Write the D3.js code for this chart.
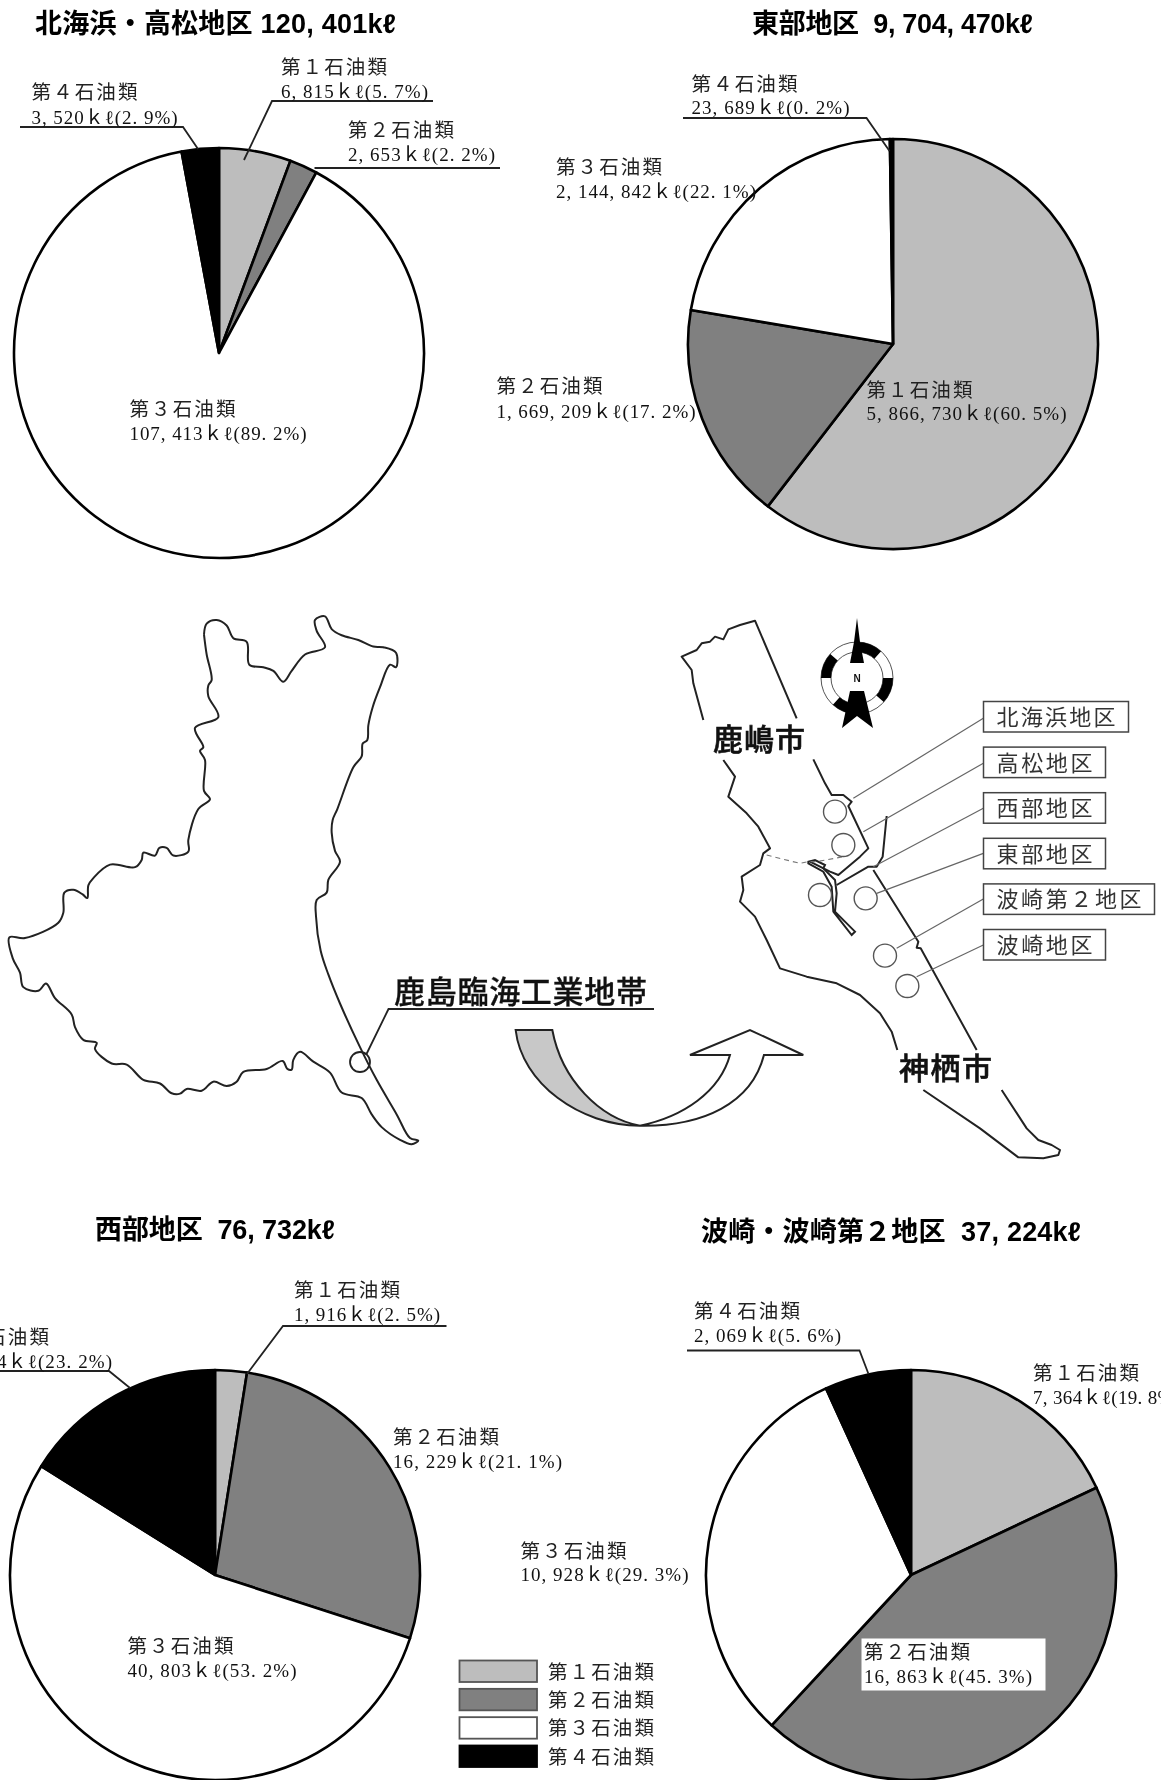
<!DOCTYPE html>
<html lang="ja">
<head>
<meta charset="utf-8">
<title>鹿島臨海工業地帯</title>
<script src="https://cdn.jsdelivr.net/npm/d3@7"></script>
<style>
  html, body { margin: 0; padding: 0; background: #fff; }
  svg { display: block; filter: blur(0.55px); }
  text { white-space: pre; }
</style>
</head>
<body>
<div id="chart"></div>
<script>
const categories = ["第１石油類", "第２石油類", "第３石油類", "第４石油類"]
const colors = ["#bdbdbd", "#808080", "#ffffff", "#000000"]

const titles = ["北海浜・高松地区 120, 401kℓ", "東部地区  9, 704, 470kℓ", "西部地区  76, 732kℓ", "波崎・波崎第２地区  37, 224kℓ"]

// amounts and percents as printed next to each slice
const hokkaihamaAmounts = [6815, 2653, 107413, 3520]
const hokkaihamaPercents = [5.7, 2.2, 89.2, 2.9]
const tobuAmounts = [5866730, 1669209, 2144842, 23689]
const tobuPercents = [60.5, 17.2, 22.1, 0.2]
const seibuAmounts = [1916, 16229, 40803, 17784]
const seibuPercents = [2.5, 21.1, 53.2, 23.2]
const hasakiAmounts = [7364, 16863, 10928, 2069]
const hasakiPercents = [19.8, 45.3, 29.3, 5.6]

// the two lower pies are not drawn to their printed numbers, these are the shares as drawn
const seibuDrawn = [2.5, 27.5, 53.9, 16.1]
const hasakiDrawn = [18.0, 43.9, 31.3, 6.8]

const boxNames = ["北海浜地区", "高松地区", "西部地区", "東部地区", "波崎第２地区", "波崎地区"]
const compassSectors = [0, 90, 180, 270]

// outlines, in the units of the crops they were traced on
const ibarakiOutline = [[612,95],[620,65],[650,55],[680,70],[700,105],[740,115],[748,178],[790,185],[820,195],[850,225],[875,195],[915,150],[975,130],[950,85],[945,55],[975,45],[995,80],[1025,97],[1075,110],[1120,128],[1150,130],[1188,145],[1188,185],[1170,178],[1140,240],[1118,295],[1105,345],[1102,385],[1088,395],[1085,430],[1060,460],[1012,575],[998,605],[995,640],[1005,690],[1020,720],[985,770],[980,805],[950,825],[948,870],[962,965],[985,1030],[1020,1110],[1080,1230],[1130,1320],[1190,1415],[1230,1480],[1255,1487],[1235,1497],[1200,1485],[1145,1450],[1115,1415],[1085,1370],[1025,1355],[990,1300],[940,1270],[900,1243],[880,1265],[875,1292],[862,1290],[848,1268],[800,1290],[730,1298],[710,1325],[680,1337],[640,1325],[605,1350],[560,1345],[540,1358],[515,1357],[480,1330],[430,1320],[380,1278],[335,1275],[285,1235],[290,1218],[250,1210],[225,1175],[215,1140],[165,1095],[138,1055],[115,1075],[70,1065],[60,1025],[38,985],[28,928],[75,930],[175,888],[190,860],[193,805],[220,797],[248,810],[262,820],[265,785],[280,765],[330,728],[405,735],[425,715],[430,695],[465,703],[478,682],[500,682],[520,703],[565,692],[565,660],[595,575],[630,548],[612,525],[615,440],[600,415],[610,405],[585,352],[655,322],[625,265],[625,235],[635,220],[620,150],[612,95]]

const kashimaNorth = [[130,360],[100,250],[95,210],[65,170],[110,150],[125,130],[150,125],[165,110],[190,118],[205,88],[240,75],[285,62],[410,355]]
const kashimaCoast = [[460,478],[495,550],[515,585],[550,585],[575,605],[565,618],[625,745],[600,770],[535,825],[510,815],[450,785]]
const portBreakwater = [[680,648],[668,770],[650,800],[625,800],[530,855]]
const kamisuCoast = [[640,810],[775,1025],[770,1043],[782,1045],[950,1350]]
const portStrip = [[445,785],[465,780],[495,795],[490,805],[525,840],[530,880],[525,935],[585,995],[575,1005],[520,935],[515,860],[490,815],[445,790]]
const westShore = [[190,480],[225,530],[205,590],[260,640],[295,680],[330,745],[310,760],[300,795],[245,830],[250,870],[240,905],[285,950],[320,1020],[360,1105],[440,1130],[530,1150],[600,1185],[660,1240],[695,1295],[712,1350]]
const kamisuTip = [[790,1470],[960,1585],[1075,1672],[1150,1675],[1195,1665],[1200,1650],[1175,1635],[1135,1620],[1100,1585],[1025,1470]]
const cityBorder = [[320,765],[370,778],[420,790],[445,785],[470,785],[550,770]]
const districtCircles = [[525,635],[550,735],[480,885],[617,895],[675,1067],[742,1158]]
const boxLeaders = [[[970,355],[580,595]],[[970,490],[610,695]],[[970,625],[640,800]],[[970,760],[650,880]],[[970,897],[710,1045]],[[970,1035],[770,1130]]]

const width = 1161
const height = 1780
const sans = "'Noto Sans CJK JP', sans-serif"
const mixed = "'Liberation Serif', 'Noto Sans CJK JP', serif"
const titleFont = "'Liberation Sans', 'Noto Sans CJK JP', sans-serif"

const svg = d3.select("#chart").append("svg")
  .attr("width", width)
  .attr("height", height)
  .attr("viewBox", "0 0 " + width + " " + height)

const fill = d3.scaleOrdinal().domain(categories).range(colors)

function amountLabel(amount, percent) {
  const a = d3.format(",")(amount).replaceAll(",", ", ")
  const p = d3.format(".1f")(percent).replace(".", ". ")
  return a + "ｋℓ(" + p + "%)"
}

const pies = [
  { values: hokkaihamaAmounts, amounts: hokkaihamaAmounts, percents: hokkaihamaPercents, cx: 219, cy: 353,
    title: { x: 35, y: 33, w: 361 },
    labels: [[281, 67, 91, 147], [348, 130, 154.5, 147], [129.5, 409, 433.5, 177], [31.5, 92, 117, 146]],
    leaders: [[[433,101],[272,101],[244,160]], [[500,168],[314.5,168]], [[20,127],[183,127],[198,149]]] },
  { values: tobuAmounts, amounts: tobuAmounts, percents: tobuPercents, cx: 893, cy: 344,
    title: { x: 752, y: 33, w: 281 },
    labels: [[866.5, 390, 413.5, 200], [496.5, 386, 411.5, 199], [556, 167, 191, 200], [691.5, 83.5, 107, 158]],
    leaders: [[[683,118],[866.5,118],[889.5,151]]] },
  { values: seibuDrawn, amounts: seibuAmounts, percents: seibuPercents, cx: 215, cy: 1575,
    title: { x: 95, y: 1239, w: 240 },
    labels: [[294, 1290, 1314, 146], [393, 1436.5, 1461.5, 169], [127.5, 1646, 1670.5, 169], [-57, 1337, 1361, 169]],
    leaders: [[[446.5,1326],[283,1326],[247,1374]], [[0,1371],[109,1371],[130,1388]]] },
  { values: hasakiDrawn, amounts: hasakiAmounts, percents: hasakiPercents, cx: 911, cy: 1575,
    title: { x: 701, y: 1241, w: 380 },
    labels: [[1033, 1372.5, 1397, 147], [864, 1652, 1676, 168], [520.5, 1550.5, 1574.5, 168], [694, 1310.5, 1335, 147]],
    leaders: [[[687,1350.5],[859.5,1350.5],[868.5,1374]]] }
]

const pie = d3.pie().sort(null)
const arc = d3.arc().innerRadius(0).outerRadius(205)
const lineGen = d3.line()

function paintPie(conf, i) {
  const g = svg.append("g").attr("transform", "translate(" + conf.cx + "," + conf.cy + ")")
  g.selectAll("path")
    .data(pie(conf.values))
    .enter()
    .append("path")
    .attr("d", arc)
    .attr("fill", (d, j) => fill(categories[j]))
    .attr("stroke", "#000")
    .attr("stroke-width", 2.6)
    .attr("stroke-linejoin", "round")

  svg.append("text")
    .attr("x", conf.title.x)
    .attr("y", conf.title.y)
    .attr("textLength", conf.title.w)
    .attr("font-family", titleFont)
    .attr("font-weight", "bold")
    .attr("font-size", 27)
    .attr("fill", "#000")
    .text(titles[i])

  svg.selectAll(".leader" + i)
    .data(conf.leaders)
    .enter()
    .append("path")
    .attr("class", "leader" + i)
    .attr("d", lineGen)
    .attr("fill", "none")
    .attr("stroke", "#222")
    .attr("stroke-width", 1.8)
}

// the white patch behind the label sits on top of the pies
function paintLabels(conf) {
  conf.labels.forEach((l, j) => {
    svg.append("text")
      .attr("x", l[0])
      .attr("y", l[1] + 7)
      .attr("textLength", 106)
      .attr("font-family", mixed)
      .attr("font-size", 19.5)
      .attr("fill", "#222")
      .text(categories[j])
    svg.append("text")
      .attr("x", l[0])
      .attr("y", l[2] + 6.5)
      .attr("textLength", l[3])
      .attr("font-family", mixed)
      .attr("font-size", 19)
      .attr("fill", "#111")
      .text(amountLabel(conf.amounts[j], conf.percents[j]))
  })
}

pies.forEach(paintPie)
svg.append("rect")
  .attr("x", 861.5)
  .attr("y", 1638.5)
  .attr("width", 184)
  .attr("height", 52)
  .attr("fill", "#fff")
pies.forEach(paintLabels)

// legend
const legendY = d3.scalePoint().domain(categories).range([1660.5, 1745.5])
const legend = svg.append("g")
legend.selectAll("rect")
  .data(categories)
  .enter()
  .append("rect")
  .attr("x", 459.5)
  .attr("y", d => legendY(d))
  .attr("width", 77.5)
  .attr("height", 21.5)
  .attr("fill", d => fill(d))
  .attr("stroke", (d, i) => i === 3 ? "#000" : "#555")
  .attr("stroke-width", 1.8)
legend.selectAll("text")
  .data(categories)
  .enter()
  .append("text")
  .attr("x", 548)
  .attr("y", d => legendY(d) + 18)
  .attr("textLength", 106)
  .attr("font-family", mixed)
  .attr("font-size", 19.5)
  .attr("fill", "#222")
  .text(d => d)

// prefecture map, traced on a crop read at 1320 x 1568 for 440 x 570 of the page
const ibarakiX = d3.scaleLinear().domain([0, 1320]).range([0, 440])
const ibarakiY = d3.scaleLinear().domain([0, 1568]).range([600, 1170])
const ibarakiLine = d3.line().x(d => ibarakiX(d[0])).y(d => ibarakiY(d[1])).curve(d3.curveCatmullRom.alpha(0.5))
svg.append("path")
  .attr("d", ibarakiLine(ibarakiOutline))
  .attr("fill", "none")
  .attr("stroke", "#222")
  .attr("stroke-width", 2)
svg.append("circle")
  .attr("cx", 360)
  .attr("cy", 1062)
  .attr("r", 10)
  .attr("fill", "none")
  .attr("stroke", "#222")
  .attr("stroke-width", 1.8)
svg.append("path")
  .attr("d", lineGen([[366.5,1054],[388.5,1009],[654,1009]]))
  .attr("fill", "none")
  .attr("stroke", "#222")
  .attr("stroke-width", 1.8)
svg.append("text")
  .attr("x", 394)
  .attr("y", 1003)
  .attr("textLength", 253)
  .attr("font-family", sans)
  .attr("font-weight", 500)
  .attr("font-size", 31)
  .attr("fill", "#111")
  .attr("stroke", "#111")
  .attr("stroke-width", 0.3)
  .text("鹿島臨海工業地帯")

// curved arrow
const arrow = svg.append("g").attr("transform", "translate(340,950) scale(0.3333)")
const grayPart = d3.path()
grayPart.moveTo(527, 240)
grayPart.lineTo(637, 240)
grayPart.bezierCurveTo(665, 390, 780, 505, 900, 527)
grayPart.bezierCurveTo(720, 527, 545, 400, 527, 240)
grayPart.closePath()
const whitePart = d3.path()
whitePart.moveTo(900, 527)
whitePart.bezierCurveTo(1090, 530, 1235, 460, 1272, 315)
whitePart.lineTo(1390, 315)
whitePart.lineTo(1230, 240)
whitePart.lineTo(1050, 315)
whitePart.lineTo(1170, 315)
whitePart.bezierCurveTo(1140, 425, 1030, 500, 900, 527)
whitePart.closePath()
arrow.append("path").attr("d", grayPart.toString()).attr("fill", "#c8c8c8").attr("stroke", "#222").attr("stroke-width", 6)
arrow.append("path").attr("d", whitePart.toString()).attr("fill", "#fff").attr("stroke", "#222").attr("stroke-width", 6)

// district map, traced on a crop at 3x, offset 660, 600
const areaX = d3.scaleLinear().domain([0, 1503]).range([660, 1161])
const areaY = d3.scaleLinear().domain([0, 1140]).range([600, 980])
const areaLine = d3.line().x(d => areaX(d[0])).y(d => areaY(d[1]))
const shores = [kashimaNorth, kashimaCoast, portBreakwater, kamisuCoast, westShore, kamisuTip]
svg.selectAll(".shore")
  .data(shores)
  .enter()
  .append("path")
  .attr("class", "shore")
  .attr("d", areaLine)
  .attr("fill", "none")
  .attr("stroke", "#222")
  .attr("stroke-width", 2)
  .attr("stroke-linejoin", "round")
svg.append("path")
  .attr("d", areaLine(portStrip) + "Z")
  .attr("fill", "none")
  .attr("stroke", "#222")
  .attr("stroke-width", 2)
svg.append("path")
  .attr("d", areaLine(cityBorder))
  .attr("fill", "none")
  .attr("stroke", "#777")
  .attr("stroke-width", 1.2)
  .attr("stroke-dasharray", "5,4")
svg.selectAll(".boxLeader")
  .data(boxLeaders)
  .enter()
  .append("path")
  .attr("class", "boxLeader")
  .attr("d", areaLine)
  .attr("fill", "none")
  .attr("stroke", "#666")
  .attr("stroke-width", 1.2)
svg.selectAll(".district")
  .data(districtCircles)
  .enter()
  .append("circle")
  .attr("class", "district")
  .attr("cx", d => areaX(d[0]))
  .attr("cy", d => areaY(d[1]))
  .attr("r", 11.5)
  .attr("fill", "none")
  .attr("stroke", "#555")
  .attr("stroke-width", 1.4)

// name boxes
const boxWidths = [145, 122, 122, 122, 171, 122]
const boxY = d3.scalePoint().domain(boxNames).range([701.5, 929.5])
svg.selectAll(".nameBox")
  .data(boxNames)
  .enter()
  .append("rect")
  .attr("class", "nameBox")
  .attr("x", 983.5)
  .attr("y", d => boxY(d))
  .attr("width", (d, i) => boxWidths[i])
  .attr("height", 30.5)
  .attr("fill", "#fff")
  .attr("stroke", "#444")
  .attr("stroke-width", 1.5)
svg.selectAll(".nameText")
  .data(boxNames)
  .enter()
  .append("text")
  .attr("class", "nameText")
  .attr("x", 996.5)
  .attr("y", d => boxY(d) + 23.5)
  .attr("textLength", (d, i) => boxWidths[i] - 26)
  .attr("font-family", sans)
  .attr("font-size", 22)
  .attr("fill", "#333")
  .text(d => d)

svg.append("text")
  .attr("x", 713)
  .attr("y", 750)
  .attr("textLength", 92)
  .attr("font-family", sans)
  .attr("font-weight", 500)
  .attr("font-size", 30)
  .attr("fill", "#111")
  .attr("stroke", "#111")
  .attr("stroke-width", 0.6)
  .text("鹿嶋市")
svg.append("text")
  .attr("x", 899)
  .attr("y", 1079)
  .attr("textLength", 93)
  .attr("font-family", sans)
  .attr("font-weight", 500)
  .attr("font-size", 30)
  .attr("fill", "#111")
  .attr("stroke", "#111")
  .attr("stroke-width", 0.6)
  .text("神栖市")

// compass
const compass = svg.append("g").attr("transform", "translate(857,678)")
const ringArc = d3.arc().innerRadius(26).outerRadius(36)
const toRad = d3.scaleLinear().domain([0, 360]).range([0, 2 * Math.PI])
compass.append("path")
  .attr("d", ringArc({ startAngle: 0, endAngle: 2 * Math.PI }))
  .attr("fill", "#fff")
  .attr("stroke", "#555")
  .attr("stroke-width", 1)
compass.selectAll(".sector")
  .data(compassSectors)
  .enter()
  .append("path")
  .attr("class", "sector")
  .attr("d", d => ringArc({ startAngle: toRad(d), endAngle: toRad(d + 42) }))
  .attr("fill", "#000")
compass.append("path")
  .attr("d", lineGen([[0,-60],[-3,-36],[-7,-15],[7,-15],[3,-36]]) + "Z")
  .attr("fill", "#000")
compass.append("path")
  .attr("d", lineGen([[-7,13],[7,13],[16,50],[0,38],[-15,50]]) + "Z")
  .attr("fill", "#000")
compass.append("text")
  .attr("x", 0)
  .attr("y", 4)
  .attr("text-anchor", "middle")
  .attr("font-family", "'Liberation Sans', sans-serif")
  .attr("font-weight", "bold")
  .attr("font-size", 10)
  .attr("fill", "#111")
  .text("N")
</script>
</body>
</html>
